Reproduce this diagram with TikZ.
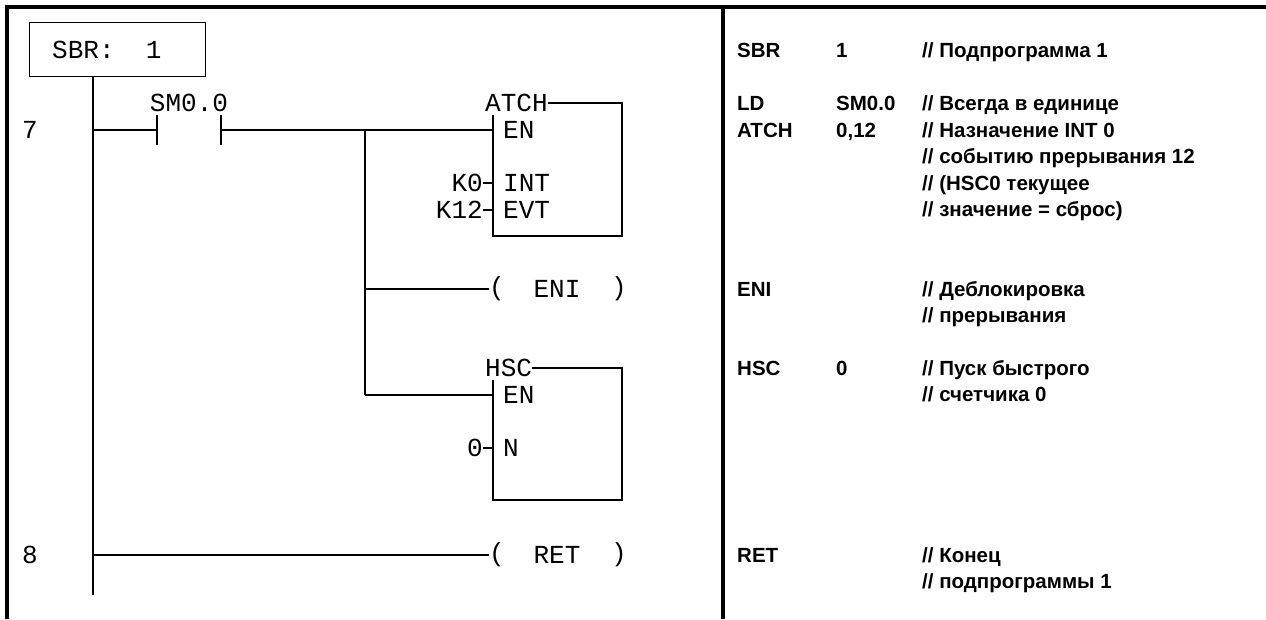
\documentclass[tikz,border=0pt]{standalone}
\usepackage{fontspec}
\setmainfont{Liberation Sans}
\setmonofont{Liberation Mono}
\usetikzlibrary{calc}
\newcommand{\ladfont}{\fontsize{26}{26}\selectfont\ttfamily\frenchspacing}
\newcommand{\stlfont}{\fontsize{20.5}{20.5}\selectfont\bfseries}
\newcommand{\funcbox}[4]{
	\node[ladtext, anchor=west] (#1) at (485,#3) {#2};
	\coordinate (#1NE) at (622,#3);
	\coordinate (#1SE) at (622,#4);
	\coordinate (#1SW) at (493,#4);
	\coordinate (#1NW) at (493,#3+12);
	\draw[lad] (#1.east |- #1NE) -- (#1NE) -- (#1SE) -- (#1SW) -- (#1NW);
}
\newcommand{\coil}[3]{
	\node[ladtext, anchor=west] (#1l) at (489,#2) {(};
	\node[ladtext] (#1) at (557,#2) {#3};
	\node[ladtext, anchor=east] (#1r) at (627,#2) {)};
}
\tikzset{
	lad/.style={line width=1.3pt},
	frame/.style={line width=4pt},
	ladtext/.style={font=\ladfont, inner sep=0pt},
	stl/.style={font=\stlfont, inner sep=0pt, anchor=base west},
}

\begin{document}
\begin{tikzpicture}[x=1pt,y=-1pt]
	\useasboundingbox (0,0) rectangle (1266,619);
	% frame
	\coordinate (FL) at (7,619);
	\coordinate (FC) at (7,7);
	\coordinate (FR) at (1266,7);
	\coordinate (DT) at (723,7);
	\coordinate (DB) at (723,619);
	\draw[frame] (FL) -- (FC) -- (FR);
	\draw[frame] (DT) -- (DB);

	% subroutine header and power rail
	\node[draw, lad, minimum width=176, minimum height=54, anchor=north west] (sbr) at (29,22) {};
	\node[ladtext, anchor=west] (sbrtext) at (52,50) {SBR:\ \ 1};
	\coordinate (railtop) at (93,76);
	\coordinate (railbot) at (93,595);
	\draw[lad] (railtop) -- (railbot);

	% rung 7
	\node[ladtext] (n7) at (30,130) {7};
	\coordinate (r7) at (93,130);
	\coordinate (K1) at (157,130);
	\coordinate (K2) at (221,130);
	\coordinate (br) at (365,130);
	\coordinate (brbot) at (365,395);
	\node[ladtext] (sm) at (189,103) {SM0.0};
	\draw[lad] (r7) -- (K1);
	\draw[lad] ($(K1)+(0,-15)$) -- ($(K1)+(0,15)$);
	\draw[lad] ($(K2)+(0,-15)$) -- ($(K2)+(0,15)$);
	\draw[lad] (br) -- (brbot);

	\funcbox{atch}{ATCH}{103}{236}
	\coordinate (atchEN) at (493,130);
	\coordinate (atchINT) at (493,183);
	\coordinate (atchEVT) at (493,210);
	\draw[lad] (K2) -- (atchEN);
	\node[ladtext, anchor=west] (en1) at (503,130) {EN};
	\node[ladtext, anchor=west] (int) at (503,183) {INT};
	\node[ladtext, anchor=west] (evt) at (503,210) {EVT};
	\node[ladtext, anchor=east] (k0) at (483,183) {K0};
	\node[ladtext, anchor=east] (k12) at (483,210) {K12};
	\draw[lad] (k0.east |- atchINT) -- (atchINT);
	\draw[lad] (k12.east |- atchEVT) -- (atchEVT);

	\coordinate (eniw) at (365,289);
	\coil{eni}{289}{ENI}
	\draw[lad] (eniw) -- (enil.west |- eniw);

	\funcbox{hsc}{HSC}{368}{500}
	\coordinate (hscEN) at (493,395);
	\coordinate (hscN) at (493,448);
	\draw[lad] (brbot) -- (hscEN);
	\node[ladtext, anchor=west] (en2) at (503,395) {EN};
	\node[ladtext, anchor=west] (nn) at (503,448) {N};
	\node[ladtext, anchor=east] (n0) at (483,448) {0};
	\draw[lad] (n0.east |- hscN) -- (hscN);

	% rung 8
	\node[ladtext] (n8) at (30,555) {8};
	\coordinate (r8) at (93,555);
	\coil{ret}{555}{RET}
	\draw[lad] (r8) -- (retl.west |- r8);

	% statement list
	\node[stl] (s1a) at (737,57.3) {SBR};
	\node[stl] (s1b) at (836,57.3) {1};
	\node[stl] (s1c) at (922,57.3) {// Подпрограмма 1};
	\node[stl] (s2a) at (737,110.3) {LD};
	\node[stl] (s2b) at (836,110.3) {SM0.0};
	\node[stl] (s2c) at (922,110.3) {// Всегда в единице};
	\node[stl] (s3a) at (737,137.3) {ATCH};
	\node[stl] (s3b) at (836,137.3) {0,12};
	\node[stl] (s3c) at (922,137.3) {// Назначение INT 0};
	\node[stl] (s3d) at (922,163.8) {// событию прерывания 12};
	\node[stl] (s3e) at (922,190.3) {// (HSC0 текущее};
	\node[stl] (s3f) at (922,216.8) {// значение = сброс)};
	\node[stl] (s4a) at (737,296.3) {ENI};
	\node[stl] (s4c) at (922,296.3) {// Деблокировка};
	\node[stl] (s4d) at (922,322.8) {// прерывания};
	\node[stl] (s5a) at (737,375.3) {HSC};
	\node[stl] (s5b) at (836,375.3) {0};
	\node[stl] (s5c) at (922,375.3) {// Пуск быстрого};
	\node[stl] (s5d) at (922,401.8) {// счетчика 0};
	\node[stl] (s6a) at (737,562.3) {RET};
	\node[stl] (s6c) at (922,562.3) {// Конец};
	\node[stl] (s6d) at (922,588.8) {// подпрограммы 1};
\end{tikzpicture}
\end{document}
